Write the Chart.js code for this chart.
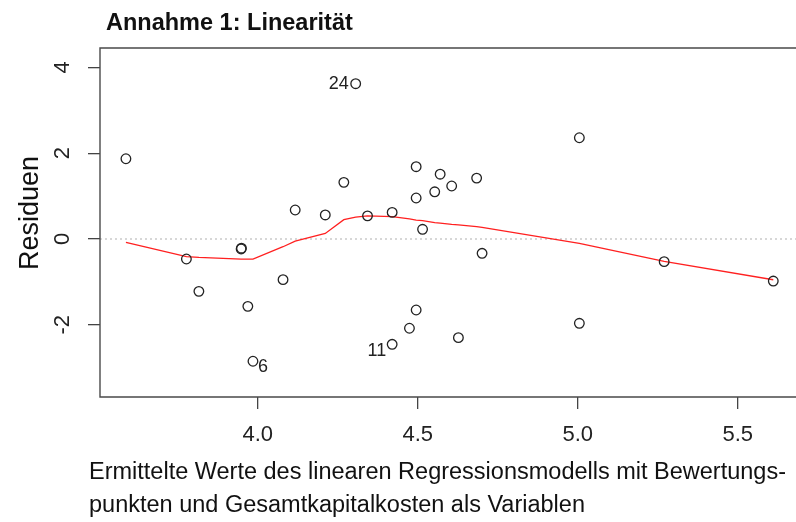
<!DOCTYPE html>
<html><head><meta charset="utf-8">
<script src="https://cdn.jsdelivr.net/npm/chart.js@4/dist/chart.umd.min.js"></script>
<style>
html,body{margin:0;padding:0;background:#fff;overflow:hidden;width:796px;height:522px}
#wrap{position:relative;width:796px;height:522px;overflow:hidden}
</style></head><body>
<div id="wrap"><canvas id="c" width="796" height="522" style="width:796px;height:522px"></canvas></div>
<script>
// fitted values (x) and residuals (y) of the regression model
const fittedValues = [3.588, 3.777, 3.816, 3.948, 3.949, 3.969, 3.985, 4.079, 4.117, 4.211,
  4.269, 4.306, 4.343, 4.420, 4.420, 4.474, 4.495, 4.495, 4.495, 4.515,
  4.553, 4.570, 4.606, 4.627, 4.684, 4.701, 5.005, 5.005, 5.270, 5.611];
const residuals = [1.87, -0.466, -1.22, -0.233, -0.215, -1.57, -2.85, -0.948, 0.676, 0.56,
  1.32, 3.62, 0.54, 0.62, -2.455, -2.08, 1.685, 0.956, -1.655, 0.226,
  1.10, 1.51, 1.235, -2.30, 1.42, -0.334, 2.36, -1.965, -0.528, -0.98];
// labelled observations
const labelIndex = [11, 6, 14];
const labelText = ['24', '6', '11'];
const labelSide = ['left', 'right', 'left'];
// smoothed (lowess) line
const lowessX = [3.588, 3.777, 3.816, 3.948, 3.969, 3.985, 4.079, 4.117, 4.211, 4.269,
  4.306, 4.343, 4.420, 4.474, 4.495, 4.515, 4.553, 4.570, 4.606, 4.627,
  4.684, 4.701, 5.005, 5.270, 5.611];
const lowessY = [-0.08, -0.41, -0.43, -0.47, -0.47, -0.47, -0.18, -0.05, 0.13, 0.45,
  0.51, 0.54, 0.52, 0.47, 0.44, 0.43, 0.38, 0.37, 0.34, 0.33,
  0.29, 0.27, -0.10, -0.52, -0.95];
// axes (visible part of the plot region; its right border lies outside the picture)
const xTicks = [4.0, 4.5, 5.0, 5.5];
const yTicks = [-2, 0, 2, 4];
const xRange = [3.507, 5.682];
const yRange = [-3.683, 4.452];
const titleText = 'Annahme 1: Linearität';
const xTitleLines = ['Ermittelte Werte des linearen Regressionsmodells mit Bewertungs-',
  'punkten und Gesamtkapitalkosten als Variablen'];
const yTitleText = 'Residuen';

const FONT = '"Liberation Sans", Arial, sans-serif';

const textPlugin = {
  id: 'rtext',
  afterDraw(chart) {
    const ctx = chart.ctx, a = chart.chartArea;
    const xs = chart.scales.x, ys = chart.scales.y;
    ctx.save();
    // plot box (right side falls outside the picture)
    ctx.strokeStyle = '#4a4a4a';
    ctx.lineWidth = 1.4;
    ctx.beginPath();
    ctx.moveTo(a.right + 4, a.top);
    ctx.lineTo(a.left, a.top);
    ctx.lineTo(a.left, a.bottom);
    ctx.lineTo(a.right + 4, a.bottom);
    ctx.stroke();
    ctx.fillStyle = '#111';
    // main title
    ctx.font = 'bold 23.5px ' + FONT;
    ctx.textAlign = 'left';
    ctx.textBaseline = 'alphabetic';
    ctx.fillText(titleText, 106, 30);
    // x title
    ctx.font = '23.5px ' + FONT;
    ctx.textBaseline = 'middle';
    ctx.fillText(xTitleLines[0], 89, 473);
    ctx.fillText(xTitleLines[1], 89, 506);
    // y title
    ctx.save();
    ctx.translate(38, 213);
    ctx.rotate(-Math.PI / 2);
    ctx.font = '27px ' + FONT;
    ctx.textAlign = 'center';
    ctx.textBaseline = 'alphabetic';
    ctx.fillText(yTitleText, 0, 0);
    ctx.restore();
    // point labels
    ctx.font = '18px ' + FONT;
    ctx.fillStyle = '#222';
    ctx.textBaseline = 'middle';
    labelIndex.forEach((idx, k) => {
      const px = xs.getPixelForValue(fittedValues[idx]);
      const py = ys.getPixelForValue(residuals[idx]);
      if (labelSide[k] === 'left') {
        ctx.textAlign = 'right';
        ctx.fillText(labelText[k], px - (k === 0 ? 7 : 6), py + (k === 0 ? 0 : 7));
      } else {
        ctx.textAlign = 'left';
        ctx.fillText(labelText[k], px + 5, py + 6);
      }
    });
    ctx.restore();
  }
};

new Chart(document.getElementById('c'), {
  type: 'scatter',
  data: {
    datasets: [
      { label: 'Residuen',
        data: fittedValues.map((x, i) => ({ x, y: residuals[i] })),
        pointRadius: 4.8, pointBorderWidth: 1.3, pointBorderColor: '#222',
        pointBackgroundColor: 'rgba(0,0,0,0)', showLine: false },
      { label: 'Glättung',
        data: lowessX.map((x, i) => ({ x, y: lowessY[i] })),
        showLine: true, borderColor: '#ff2020', borderWidth: 1.3, pointRadius: 0, tension: 0 },
      { label: 'Null',
        data: [{ x: xRange[0], y: 0 }, { x: xRange[1], y: 0 }],
        showLine: true, borderColor: '#b0b0b0', borderWidth: 1.2, borderDash: [2, 3], pointRadius: 0 }
    ]
  },
  options: {
    responsive: false, devicePixelRatio: 1, animation: false,
    layout: { autoPadding: false, padding: { top: 48, right: 0, left: 0, bottom: 0 } },
    plugins: { legend: { display: false }, tooltip: { enabled: false }, title: { display: false } },
    scales: {
      x: {
        type: 'linear', position: 'bottom', min: xRange[0], max: xRange[1],
        afterBuildTicks: s => { s.ticks = xTicks.map(v => ({ value: v })); },
        afterFit: s => { s.height = 125; },
        grid: { drawOnChartArea: false, drawTicks: true, tickLength: 12, color: '#444', lineWidth: 1.3 },
        border: { display: false },
        ticks: { autoSkip: false, maxRotation: 0, minRotation: 0, padding: 13, color: '#222',
          font: { family: FONT, size: 22 }, callback: v => Number(v).toFixed(1) }
      },
      y: {
        type: 'linear', position: 'left', min: yRange[0], max: yRange[1],
        afterBuildTicks: s => { s.ticks = yTicks.map(v => ({ value: v })); },
        afterFit: s => { s.width = 100; },
        grid: { drawOnChartArea: false, drawTicks: true, tickLength: 12, color: '#444', lineWidth: 1.3 },
        border: { display: false },
        ticks: { autoSkip: false, minRotation: 90, maxRotation: 90, crossAlign: 'center', padding: 15, color: '#222',
          font: { family: FONT, size: 22 }, callback: v => String(v) }
      }
    }
  },
  plugins: [textPlugin]
});
</script>
</body></html>
